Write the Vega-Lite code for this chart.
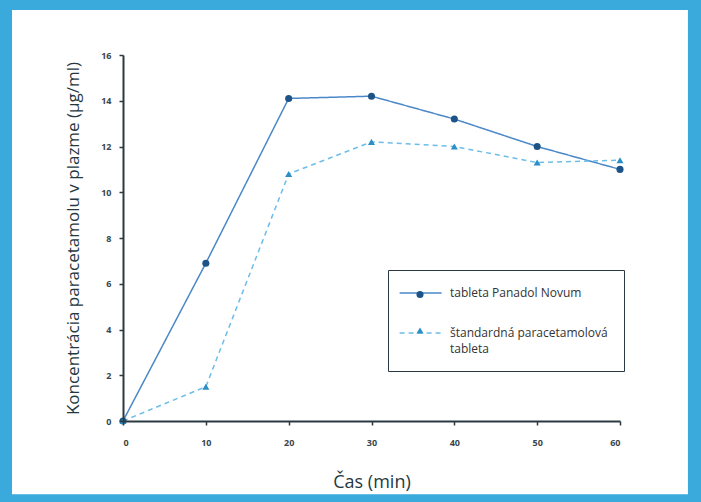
{
  "$schema": "https://vega.github.io/schema/vega-lite/v6.json",
  "width": 497,
  "height": 366,
  "autosize": "none",
  "padding": {"left": 123, "top": 55, "right": 81, "bottom": 81},
  "background": "#3aa9dc",
  "config": {
    "view": {"stroke": null},
    "font": "Open Sans",
    "axis": {
      "domainColor": "#2b3a42",
      "domainWidth": 2,
      "tickColor": "#2b3a42",
      "tickWidth": 1.5,
      "tickSize": 4,
      "labelFontSize": 9,
      "labelColor": "#3a464c",
      "labelFontWeight": "bold",
      "labelPadding": 8,
      "titleFontWeight": "normal",
      "titleColor": "#253842",
      "grid": false
    }
  },
  "data": {
    "values": [
      {"cas": 0, "konc": 0, "series": "tableta Panadol Novum"},
      {"cas": 10, "konc": 6.9, "series": "tableta Panadol Novum"},
      {"cas": 20, "konc": 14.1, "series": "tableta Panadol Novum"},
      {"cas": 30, "konc": 14.2, "series": "tableta Panadol Novum"},
      {"cas": 40, "konc": 13.2, "series": "tableta Panadol Novum"},
      {"cas": 50, "konc": 12.0, "series": "tableta Panadol Novum"},
      {"cas": 60, "konc": 11.0, "series": "tableta Panadol Novum"},
      {"cas": 0, "konc": 0, "series": "štandardná paracetamolová tableta"},
      {"cas": 10, "konc": 1.5, "series": "štandardná paracetamolová tableta"},
      {"cas": 20, "konc": 10.8, "series": "štandardná paracetamolová tableta"},
      {"cas": 30, "konc": 12.2, "series": "štandardná paracetamolová tableta"},
      {"cas": 40, "konc": 12.0, "series": "štandardná paracetamolová tableta"},
      {"cas": 50, "konc": 11.3, "series": "štandardná paracetamolová tableta"},
      {"cas": 60, "konc": 11.4, "series": "štandardná paracetamolová tableta"}
    ]
  },
  "layer": [
    {
      "data": {"values": [{}]},
      "mark": {"type": "rect", "fill": "white", "clip": false},
      "encoding": {
        "x": {"datum": -13.4, "type": "quantitative"},
        "x2": {"datum": 68.2},
        "y": {"datum": -3.2, "type": "quantitative"},
        "y2": {"datum": 17.97}
      }
    },
    {
      "mark": {"type": "line", "strokeWidth": 1.5},
      "encoding": {
        "x": {
          "field": "cas", "type": "quantitative",
          "scale": {"domain": [0, 60], "nice": false},
          "axis": {"zindex": 1, "values": [0, 10, 20, 30, 40, 50, 60], "title": "Čas (min)", "titleFontSize": 18, "titlePadding": 26, "labelPadding": 13}
        },
        "y": {
          "field": "konc", "type": "quantitative",
          "scale": {"domain": [0, 16], "nice": false},
          "axis": {"zindex": 1, "values": [0, 2, 4, 6, 8, 10, 12, 14, 16], "title": "Koncentrácia paracetamolu v plazme (µg/ml)", "titleFontSize": 17, "titlePadding": 18}
        },
        "color": {
          "field": "series", "type": "nominal",
          "scale": {"domain": ["tableta Panadol Novum", "štandardná paracetamolová tableta"], "range": ["#4a88c8", "#6cbde8"]},
          "legend": {
            "orient": "none", "legendX": 265, "legendY": 215,
            "title": null,
            "fillColor": "white", "strokeColor": "#2b3a42",
            "padding": 16,
            "symbolType": "M-1.9,0H5.1", "symbolSize": 144, "symbolStrokeWidth": 1.5,
            "labelFontSize": 12, "labelColor": "#333333", "labelOffset": 32, "labelLimit": 300,
            "rowPadding": 27,
            "labelExpr": "datum.label == 'štandardná paracetamolová tableta' ? ['štandardná paracetamolová', 'tableta'] : datum.label",
            "encode": {"labels": {"update": {"lineHeight": {"value": 16}}}}
          }
        },
        "strokeDash": {
          "field": "series", "type": "nominal",
          "scale": {"domain": ["tableta Panadol Novum", "štandardná paracetamolová tableta"], "range": [[1, 0], [5, 4]]}
        }
      }
    },
    {
      "mark": {"type": "point", "filled": true, "size": 50, "opacity": 1},
      "encoding": {
        "x": {"field": "cas", "type": "quantitative"},
        "y": {"field": "konc", "type": "quantitative"},
        "shape": {
          "field": "series", "type": "nominal",
          "scale": {"range": ["circle", "triangle-up"]},
          "legend": {
            "orient": "none", "legendX": 275, "legendY": 217.5,
            "title": null,
            "padding": 16,
            "symbolSize": 50,
            "labelFontSize": 12, "labelOffset": 0, "labelLimit": 300,
            "rowPadding": 22,
            "labelExpr": "''"
          }
        },
        "fill": {
          "field": "series", "type": "nominal",
          "scale": {"range": ["#1d5488", "#2b8fc6"]}
        }
      }
    }
  ]
}
